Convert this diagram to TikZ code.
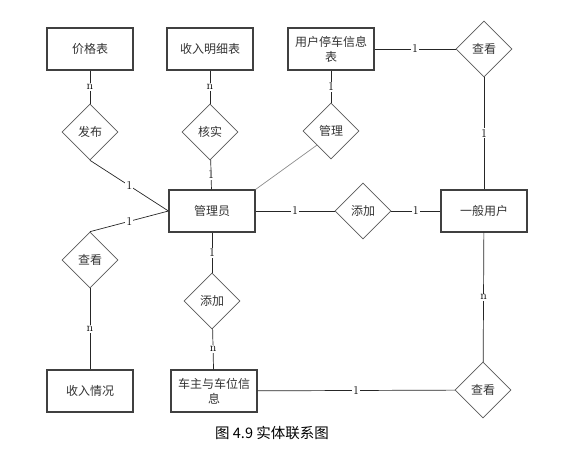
\documentclass[tikz,border=0pt]{standalone}
\usepackage{fontspec}
\usepackage{tikz}
\usetikzlibrary{shapes.geometric}
\newfontfamily\cjk{Noto Sans CJK SC}

\begin{document}
\begin{tikzpicture}[x=1pt, y=-1pt,
    entity/.style={rectangle, draw=black!75, line width=1.1pt, minimum width=86pt, minimum height=42pt, inner sep=2pt, align=center, text=black!80, font=\cjk\fontsize{12}{15}\selectfont},
    relation/.style={diamond, draw=black!65, line width=0.7pt, minimum width=56pt, minimum height=56pt, inner sep=0pt, aspect=1, text=black!80, font=\cjk\fontsize{12}{15}\selectfont},
    link/.style={draw=black!85, line width=0.7pt},
    card/.style={fill=white, inner sep=1pt, font=\fontsize{12}{13}\selectfont}]

    \useasboundingbox (0,0) rectangle (569,448);

    % entities
    \node[entity] (jiage) at (90,49) {价格表};
    \node[entity] (mingxi) at (210,49) {收入明细表};
    \node[entity] (tingche) at (331,49) {用户停车信息\\表};
    \node[entity] (guanli) at (212,211) {管理员};
    \node[entity] (yonghu) at (484,211) {一般用户};
    \node[entity] (shouru) at (90,391) {收入情况};
    \node[entity] (chezhu) at (214,391) {车主与车位信\\息};

    % relations
    \node[relation] (fabu) at (90,132) {发布};
    \node[relation] (heshi) at (210,132) {核实};
    \node[relation] (guanlirel) at (331,131) {管理};
    \node[relation] (chakanA) at (484,49) {查看};
    \node[relation] (tianjiaA) at (363,211) {添加};
    \node[relation] (chakanB) at (90,260) {查看};
    \node[relation] (tianjiaB) at (212,301) {添加};
    \node[relation] (chakanC) at (483,390) {查看};

    % links
    \draw[link] (jiage) -- node[card] {n} (fabu);
    \draw[link] (mingxi) -- node[card] {n} (heshi);
    \draw[link] (tingche) -- node[card] {1} (guanlirel);
    \draw[link] (tingche) -- node[card] {1} (chakanA);
    \draw[link] (chakanA) -- node[card] {1} (yonghu);
    \draw[link] (fabu.south) -- node[card] {1} (guanli.west);
    \draw[link] (heshi) -- node[card] {1} (guanli);
    \draw[link] (chakanB.north) -- node[card] {1} (guanli.west);
    \draw[link, draw=black!45] (guanlirel.south west) -- (guanli.north east);
    \draw[link] (guanli) -- node[card] {1} (tianjiaA);
    \draw[link] (tianjiaA) -- node[card] {1} (yonghu);
    \draw[link] (guanli) -- node[card] {1} (tianjiaB);
    \draw[link] (tianjiaB) -- node[card] {n} (chezhu);
    \draw[link] (chakanB) -- node[card] {n} (shouru);
    \draw[link] (chezhu) -- node[card] {1} (chakanC);
    \draw[link] (yonghu) -- node[card] {n} (chakanC);

    \node[font=\cjk\fontsize{14.5}{16}\selectfont] (caption) at (272,433) {图 4.9 实体联系图};

\end{tikzpicture}
\end{document}
